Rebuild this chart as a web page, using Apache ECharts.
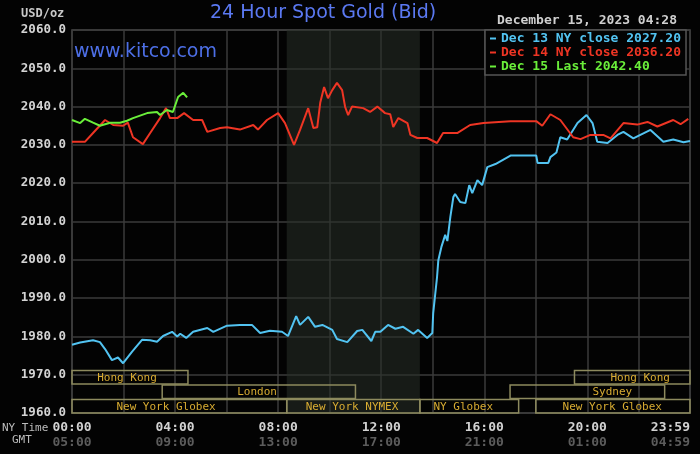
<!DOCTYPE html>
<html>
<head>
<meta charset="utf-8">
<title>24 Hour Spot Gold (Bid)</title>
<script src="https://cdn.jsdelivr.net/npm/echarts@6.0.0/dist/echarts.min.js"></script>
<style>
	html, body { margin: 0; padding: 0; background: #030303; }
	#main { width: 700px; height: 454px; }
</style>
</head>
<body>
<div id="main"></div>
<script>
// NY time of each reading, price in USD/oz
const dec13Times = ['00:00', '00:19', '00:49', '01:05', '01:17', '01:33', '01:47', '01:59', '02:20', '02:43',
	'03:02', '03:18', '03:32', '03:53', '04:05', '04:12', '04:26', '04:42', '05:15', '05:29',
	'06:01', '06:31', '06:59', '07:18', '07:41', '08:09', '08:23', '08:42', '08:51', '09:10',
	'09:26', '09:43', '10:06', '10:17', '10:41', '11:04', '11:16', '11:37', '11:46', '11:58',
	'12:16', '12:33', '12:51', '13:15', '13:26', '13:47', '13:59', '14:01', '14:06', '14:10',
	'14:13', '14:20', '14:29', '14:34', '14:41', '14:48', '14:52', '15:04', '15:16', '15:25',
	'15:32', '15:44', '15:55', '16:07', '16:26', '17:01', '18:01', '18:04', '18:29', '18:34',
	'18:48', '18:57', '19:13', '19:37', '19:58', '20:12', '20:23', '20:47', '21:10', '21:24',
	'21:47', '22:27', '22:57', '23:20', '23:44', '23:59'];
const dec13Prices = [1977.8, 1978.4, 1979.0, 1978.5, 1976.7, 1973.8, 1974.5, 1973.0, 1976.0, 1979.1,
	1979.0, 1978.6, 1980.1, 1981.2, 1980.0, 1980.7, 1979.6, 1981.2, 1982.2, 1981.2,
	1982.8, 1983.0, 1983.0, 1980.9, 1981.5, 1981.2, 1980.1, 1985.3, 1983.0, 1985.1,
	1982.5, 1983.0, 1981.7, 1979.3, 1978.5, 1981.4, 1981.7, 1978.8, 1981.2, 1981.2,
	1983.0, 1982.0, 1982.5, 1980.7, 1981.7, 1979.6, 1980.9, 1986.0, 1991.3, 1995.5,
	1999.9, 2003.3, 2006.5, 2004.9, 2011.2, 2016.4, 2017.2, 2015.1, 2014.8, 2019.5,
	2017.4, 2020.8, 2019.5, 2024.2, 2025.0, 2027.2, 2027.2, 2025.3, 2025.3, 2026.8,
	2028.0, 2032.0, 2031.4, 2035.7, 2037.8, 2035.7, 2030.8, 2030.5, 2032.6, 2033.4,
	2031.7, 2033.9, 2030.8, 2031.4, 2030.7, 2031.0];

const dec14Times = ['00:00', '00:30', '00:49', '01:17', '01:36', '01:59', '02:10', '02:22', '02:45', '03:02',
	'03:25', '03:39', '03:48', '04:05', '04:21', '04:42', '05:03', '05:15', '05:45', '06:01',
	'06:31', '07:02', '07:13', '07:34', '08:00', '08:16', '08:37', '08:51', '09:10', '09:22',
	'09:31', '09:38', '09:47', '09:56', '10:06', '10:17', '10:29', '10:36', '10:43', '10:52',
	'11:18', '11:34', '11:51', '12:09', '12:21', '12:28', '12:40', '13:01', '13:08', '13:24',
	'13:47', '14:10', '14:24', '14:57', '15:27', '15:58', '17:01', '18:01', '18:15', '18:34',
	'18:57', '19:27', '19:44', '20:07', '20:37', '20:54', '21:24', '21:56', '22:20', '22:43',
	'23:20', '23:37', '23:55'];
const dec14Prices = [2030.8, 2030.8, 2033.1, 2036.5, 2035.2, 2035.0, 2035.8, 2032.0, 2030.2, 2033.1,
	2037.0, 2039.6, 2037.0, 2037.0, 2038.3, 2036.5, 2036.5, 2033.4, 2034.4, 2034.6,
	2034.0, 2035.2, 2034.0, 2036.5, 2038.3, 2035.7, 2030.0, 2033.9, 2039.6, 2034.4,
	2034.6, 2041.0, 2045.1, 2042.2, 2044.3, 2046.2, 2044.3, 2039.9, 2037.8, 2040.0,
	2039.6, 2038.6, 2040.0, 2038.3, 2038.0, 2034.7, 2037.0, 2035.7, 2032.6, 2031.8,
	2031.8, 2030.5, 2033.1, 2033.1, 2035.2, 2035.7, 2036.2, 2036.2, 2035.0, 2038.0,
	2036.5, 2032.0, 2031.5, 2032.6, 2032.6, 2031.7, 2035.7, 2035.3, 2036.0, 2034.8,
	2036.5, 2035.4, 2036.8];

const dec15Times = ['00:00', '00:19', '00:30', '00:49', '01:05', '01:29', '01:52', '02:08', '02:22', '02:55',
	'03:18', '03:25', '03:41', '03:55', '04:07', '04:19', '04:28'];
const dec15Prices = [2036.5, 2035.7, 2036.8, 2035.8, 2035.0, 2035.8, 2035.8, 2036.3, 2037.0, 2038.3,
	2038.6, 2037.8, 2039.1, 2038.6, 2042.5, 2043.6, 2042.4];

const seriesNames = ['Dec 13 NY close 2027.20', 'Dec 14 NY close 2036.20', 'Dec 15 Last 2042.40'];
const seriesColors = ['#52c3f1', '#ee3524', '#6aee3a'];

// y ticks
const priceMin = 1960;
const priceMax = 2060;
const priceStep = 10;

// trading sessions (NY time)
const sessionNames = ['Hong Kong', 'Hong Kong', 'London', 'Sydney', 'New York Globex', 'New York NYMEX', 'NY Globex', 'New York Globex'];
const sessionStart = ['00:00', '19:30', '03:30', '17:00', '00:00', '08:20', '13:30', '18:00'];
const sessionEnd = ['04:30', '23:59', '11:00', '23:00', '08:20', '13:30', '17:20', '23:59'];
const sessionRow = [2, 2, 1, 1, 0, 0, 0, 0];
// where each session's name sits
const sessionLabelAt = ['02:08', '22:03', '07:11', '20:58', '03:39', '10:52', '15:11', '20:58'];

// NYMEX floor hours, shaded
const pitStart = '08:20';
const pitEnd = '13:30';

function toMin(s) {
	const p = s.split(':');
	return +p[0] * 60 + +p[1];
}
function pad(n) {
	return (n < 10 ? '0' : '') + n;
}
function fmtMin(m) {
	m = ((m % 1440) + 1440) % 1440;
	return pad(Math.floor(m / 60)) + ':' + pad(m % 60);
}
function pairs(times, prices) {
	return times.map(function(t, i) { return [toMin(t), prices[i]]; });
}

const mono = 'DejaVu Sans Mono';
const gridColor = '#3b3b3b';

let myChart = echarts.init(document.getElementById('main'));

let option = {
	backgroundColor: '#030303',
	animation: false,
	title: [{
		text: '24 Hour Spot Gold (Bid)',
		left: 210, top: 4, padding: 0,
		textStyle: { color: '#5b79f2', fontSize: 19, fontWeight: 'normal', fontFamily: 'DejaVu Sans' }
	}, {
		text: 'www.kitco.com',
		left: 74, top: 43, padding: 0,
		textStyle: { color: '#4d6fe6', fontSize: 19, fontWeight: 'normal', fontFamily: 'DejaVu Sans' }
	}, {
		text: 'USD/oz',
		left: 21, top: 8, padding: 0,
		textStyle: { color: '#c8c8c8', fontSize: 12, fontWeight: 'bold', fontFamily: mono }
	}, {
		text: 'December 15, 2023 04:28',
		right: 23, top: 14, padding: 0,
		textStyle: { color: '#cfcfcf', fontSize: 13, fontWeight: 'bold', fontFamily: mono }
	}, {
		text: 'NY Time',
		left: 2, top: 423, padding: 0,
		textStyle: { color: '#bdbdbd', fontSize: 11, fontWeight: 'normal', fontFamily: mono }
	}, {
		text: 'GMT',
		left: 12, top: 435, padding: 0,
		textStyle: { color: '#bdbdbd', fontSize: 11, fontWeight: 'normal', fontFamily: mono }
	}],
	legend: {
		orient: 'vertical',
		left: 485, top: 30,
		padding: [2, 5, 2, 5],
		itemGap: 1,
		itemWidth: 6,
		itemHeight: 2,
		icon: 'rect',
		selectedMode: false,
		backgroundColor: '#030303',
		borderColor: '#555',
		borderWidth: 1.5,
		textStyle: { fontFamily: mono, fontSize: 13, fontWeight: 'bold' },
		data: seriesNames.map(function(n, i) {
			return { name: n, textStyle: { color: seriesColors[i] } };
		}),
		z: 10
	},
	grid: {
		left: 72, right: 10, top: 30, bottom: 41,
		show: true,
		borderColor: '#4a4a4a',
		borderWidth: 1.5,
		outerBoundsMode: 'none'
	},
	xAxis: {
		type: 'value',
		min: 0, max: 1439, interval: 120,
		axisLine: { show: false },
		axisTick: { show: false },
		splitLine: { lineStyle: { color: gridColor, width: 1.5 } },
		axisLabel: {
			margin: 7,
			alignMaxLabel: 'right',
			formatter: function(v) {
				if (v % 240 !== 0 && v !== 1439) return '';
				return '{ny|' + fmtMin(v) + '}\n{gmt|' + fmtMin(v + 300) + '}';
			},
			rich: {
				ny: { color: '#d2d2d2', fontSize: 13, fontWeight: 'bold', fontFamily: mono, lineHeight: 15 },
				gmt: { color: '#5c5c5c', fontSize: 13, fontWeight: 'bold', fontFamily: mono, lineHeight: 15 }
			}
		}
	},
	yAxis: {
		type: 'value',
		min: priceMin, max: priceMax, interval: priceStep,
		axisLine: { show: false },
		axisTick: { show: false },
		splitLine: { lineStyle: { color: gridColor, width: 1.5 } },
		axisLabel: {
			margin: 6,
			color: '#d4d4d4',
			fontSize: 12.5,
			fontWeight: 'bold',
			fontFamily: mono,
			formatter: function(v) { return v.toFixed(1); }
		}
	},
	series: [{
		name: seriesNames[0],
		type: 'line',
		data: pairs(dec13Times, dec13Prices),
		showSymbol: false,
		lineStyle: { color: seriesColors[0], width: 2 },
		itemStyle: { color: seriesColors[0] },
		markArea: {
			silent: true,
			itemStyle: { color: 'rgba(40, 48, 40, 0.55)' },
			data: [[{ xAxis: toMin(pitStart) }, { xAxis: toMin(pitEnd) }]]
		}
	}, {
		name: seriesNames[1],
		type: 'line',
		data: pairs(dec14Times, dec14Prices),
		showSymbol: false,
		lineStyle: { color: seriesColors[1], width: 2 },
		itemStyle: { color: seriesColors[1] }
	}, {
		name: seriesNames[2],
		type: 'line',
		data: pairs(dec15Times, dec15Prices),
		showSymbol: false,
		lineStyle: { color: seriesColors[2], width: 2 },
		itemStyle: { color: seriesColors[2] }
	}, {
		name: 'sessions',
		type: 'custom',
		silent: true,
		encode: { x: [0, 1] },
		data: sessionNames.map(function(n, i) {
			return [toMin(sessionStart[i]), toMin(sessionEnd[i]), sessionRow[i], toMin(sessionLabelAt[i])];
		}),
		renderItem: function(params, api) {
			const a = api.coord([api.value(0), priceMin]);
			const b = api.coord([api.value(1), priceMin]);
			const lx = api.coord([api.value(3), priceMin])[0];
			const y1 = a[1] - api.value(2) * 14.5;
			const y0 = y1 - 13.5;
			return {
				type: 'group',
				children: [{
					type: 'rect',
					shape: { x: a[0], y: y0, width: b[0] - a[0], height: y1 - y0 },
					style: { fill: 'none', stroke: '#8d8a5e', lineWidth: 1.5 }
				}, {
					type: 'text',
					style: {
						text: sessionNames[params.dataIndex],
						x: lx, y: (y0 + y1) / 2 + 0.5,
						align: 'center', verticalAlign: 'middle',
						fill: '#d8ac32',
						font: '11px "DejaVu Sans Mono"'
					}
				}]
			};
		}
	}]
};

myChart.setOption(option);
</script>
</body>
</html>
